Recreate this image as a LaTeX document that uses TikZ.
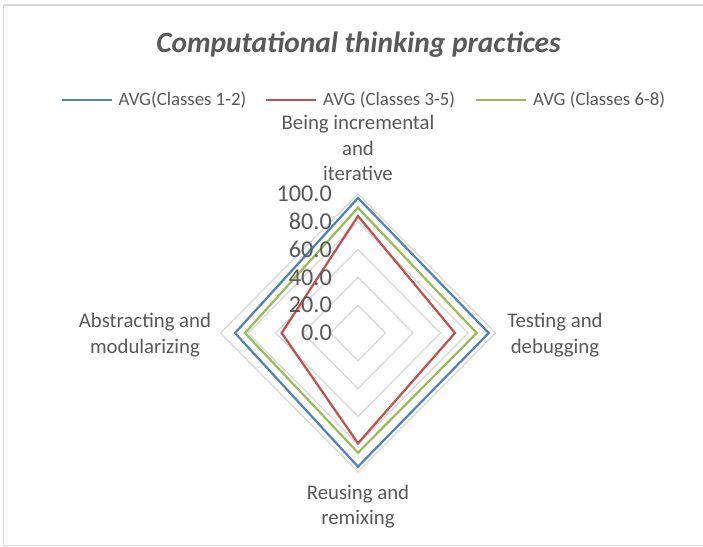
\documentclass[tikz,border=0pt]{standalone}
\usepackage{fontspec}
\setmainfont{Carlito}
\definecolor{gridgray}{HTML}{D9D9D9}
\definecolor{txtgray}{HTML}{595959}
\definecolor{sblue}{HTML}{4F81BD}
\definecolor{sred}{HTML}{C0504D}
\definecolor{sgreen}{HTML}{9BBB59}
\begin{document}
\begin{tikzpicture}[x=1pt,y=-1pt,
  gridline/.style={draw=gridgray,line width=1.3pt},
  series/.style={line width=2.2pt,line join=miter},
  cat/.style={text=txtgray,font=\fontsize{20.8}{25.6}\selectfont,align=center},
  val/.style={text=txtgray,font=\fontsize{24.2}{26}\selectfont,anchor=east,inner sep=0pt},
  leg/.style={text=txtgray,font=\fontsize{18.8}{22}\selectfont,anchor=west,inner sep=0pt}]
\useasboundingbox (0,0) rectangle (703,546);
\fill[white] (0,0) rectangle (703,546);
\draw[gridgray,line width=1.5pt] (3.5,5) -- (705,5);
\draw[gridgray,line width=1.5pt] (3.5,5) -- (3.5,545.3) -- (705,545.3);
% title
\node[text=txtgray,font=\fontsize{29.4}{32}\selectfont\bfseries\itshape] (title) at (358.5,45) {Computational thinking practices};
% legend
\draw[sblue,line width=2.2pt] (62,100) -- (112,100);
\node[leg] (l1) at (118.5,100) {AVG(Classes 1-2)};
\draw[sred,line width=2.2pt] (266,100) -- (316,100);
\node[leg] (l2) at (323,100) {AVG (Classes 3-5)};
\draw[sgreen,line width=2.2pt] (476,100) -- (526,100);
\node[leg] (l3) at (533,100) {AVG (Classes 6-8)};
% grid
\foreach \v in {20,40,60,80,100}{
  \draw[gridline] (358,{333-1.39*\v}) -- ({358+1.375*\v},333) -- (358,{333+1.39*\v}) -- ({358-1.375*\v},333) -- cycle;
}
% series
\draw[series,sblue] (358,198) -- (488.7,333) -- (358,466.7) -- (235,333) -- cycle;
\draw[series,sred] (358,216) -- (455,333) -- (358,443.3) -- (281.7,333) -- cycle;
\draw[series,sgreen] (358,207.7) -- (476.7,333) -- (358,452.7) -- (245,333) -- cycle;
% value labels
\foreach \v/\t in {0/0.0,20/20.0,40/40.0,60/60.0,80/80.0,100/100.0}{
  \node[val] at (332,{333-1.39*\v}) {\t};
}
% categories
\node[cat] (c1) at (358,148) {Being incremental\\and\\iterative};
\node[cat] (c2) at (145,335) {Abstracting and\\modularizing};
\node[cat] (c3) at (555,335) {Testing and\\debugging};
\node[cat] (c4) at (358,506.5) {Reusing and\\remixing};
\end{tikzpicture}
\end{document}
